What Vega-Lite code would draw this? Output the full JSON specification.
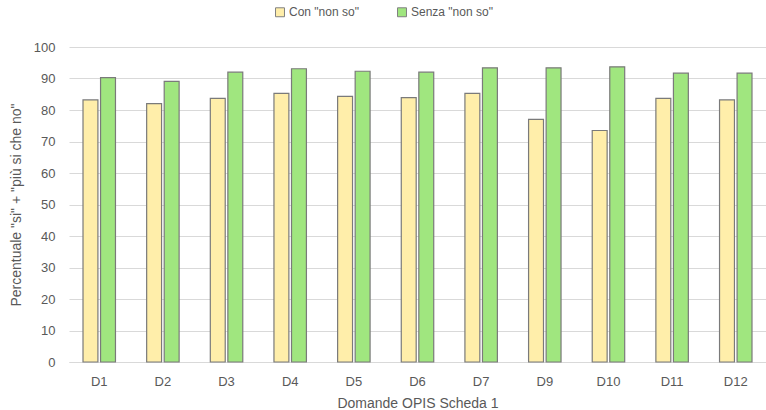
{
  "$schema": "https://vega.github.io/schema/vega-lite/v6.json",
  "width": 697,
  "height": 315,
  "autosize": "none",
  "padding": {"left": 69, "top": 47, "right": 0, "bottom": 48},
  "background": "white",
  "config": {
    "font": "Liberation Sans",
    "view": {"stroke": null},
    "axis": {"labelColor": "#595959", "titleColor": "#595959", "labelFontSize": 13, "titleFontSize": 14, "titleFontWeight": "normal"}
  },
  "data": {"values": [
    {"q": "D1", "serie": "Con \"non so\"", "val": 83.2},
    {"q": "D1", "serie": "Senza \"non so\"", "val": 90.3},
    {"q": "D2", "serie": "Con \"non so\"", "val": 82.0},
    {"q": "D2", "serie": "Senza \"non so\"", "val": 89.1},
    {"q": "D3", "serie": "Con \"non so\"", "val": 83.7},
    {"q": "D3", "serie": "Senza \"non so\"", "val": 92.0},
    {"q": "D4", "serie": "Con \"non so\"", "val": 85.3},
    {"q": "D4", "serie": "Senza \"non so\"", "val": 93.1},
    {"q": "D5", "serie": "Con \"non so\"", "val": 84.3},
    {"q": "D5", "serie": "Senza \"non so\"", "val": 92.3},
    {"q": "D6", "serie": "Con \"non so\"", "val": 83.9},
    {"q": "D6", "serie": "Senza \"non so\"", "val": 92.0},
    {"q": "D7", "serie": "Con \"non so\"", "val": 85.3},
    {"q": "D7", "serie": "Senza \"non so\"", "val": 93.4},
    {"q": "D9", "serie": "Con \"non so\"", "val": 77.0},
    {"q": "D9", "serie": "Senza \"non so\"", "val": 93.4},
    {"q": "D10", "serie": "Con \"non so\"", "val": 73.5},
    {"q": "D10", "serie": "Senza \"non so\"", "val": 93.7},
    {"q": "D11", "serie": "Con \"non so\"", "val": 83.7},
    {"q": "D11", "serie": "Senza \"non so\"", "val": 91.7},
    {"q": "D12", "serie": "Con \"non so\"", "val": 83.2},
    {"q": "D12", "serie": "Senza \"non so\"", "val": 91.7}
  ]},
  "mark": {"type": "bar", "stroke": "#7a7a7a", "strokeWidth": 1.2},
  "encoding": {
    "x": {
      "field": "q", "type": "nominal", "sort": null,
      "scale": {"paddingInner": 0.49, "paddingOuter": 0.22},
      "axis": {"title": "Domande OPIS Scheda 1", "labelAngle": 0, "ticks": false, "domain": true, "domainColor": "#d9d9d9", "labelPadding": 13, "titlePadding": 8}
    },
    "xOffset": {"field": "serie", "type": "nominal", "sort": null, "scale": {"paddingInner": 0.15}},
    "y": {
      "field": "val", "type": "quantitative",
      "scale": {"domain": [0, 100]},
      "axis": {"title": "Percentuale \"si\" + \"più si che no\"", "values": [0,10,20,30,40,50,60,70,80,90,100], "ticks": false, "domain": false, "gridColor": "#d9d9d9", "labelPadding": 14, "titlePadding": 10}
    },
    "color": {
      "field": "serie", "type": "nominal", "sort": null,
      "scale": {"range": ["#FFEEAA", "#A0E67F"]},
      "legend": {"title": null, "orient": "none", "legendX": 205, "legendY": -41, "direction": "horizontal", "symbolType": "square", "symbolSize": 80, "symbolStrokeColor": "#808080", "symbolStrokeWidth": 1, "labelFontSize": 12, "labelColor": "#595959", "columnPadding": 36, "labelOffset": 3}
    }
  }
}
